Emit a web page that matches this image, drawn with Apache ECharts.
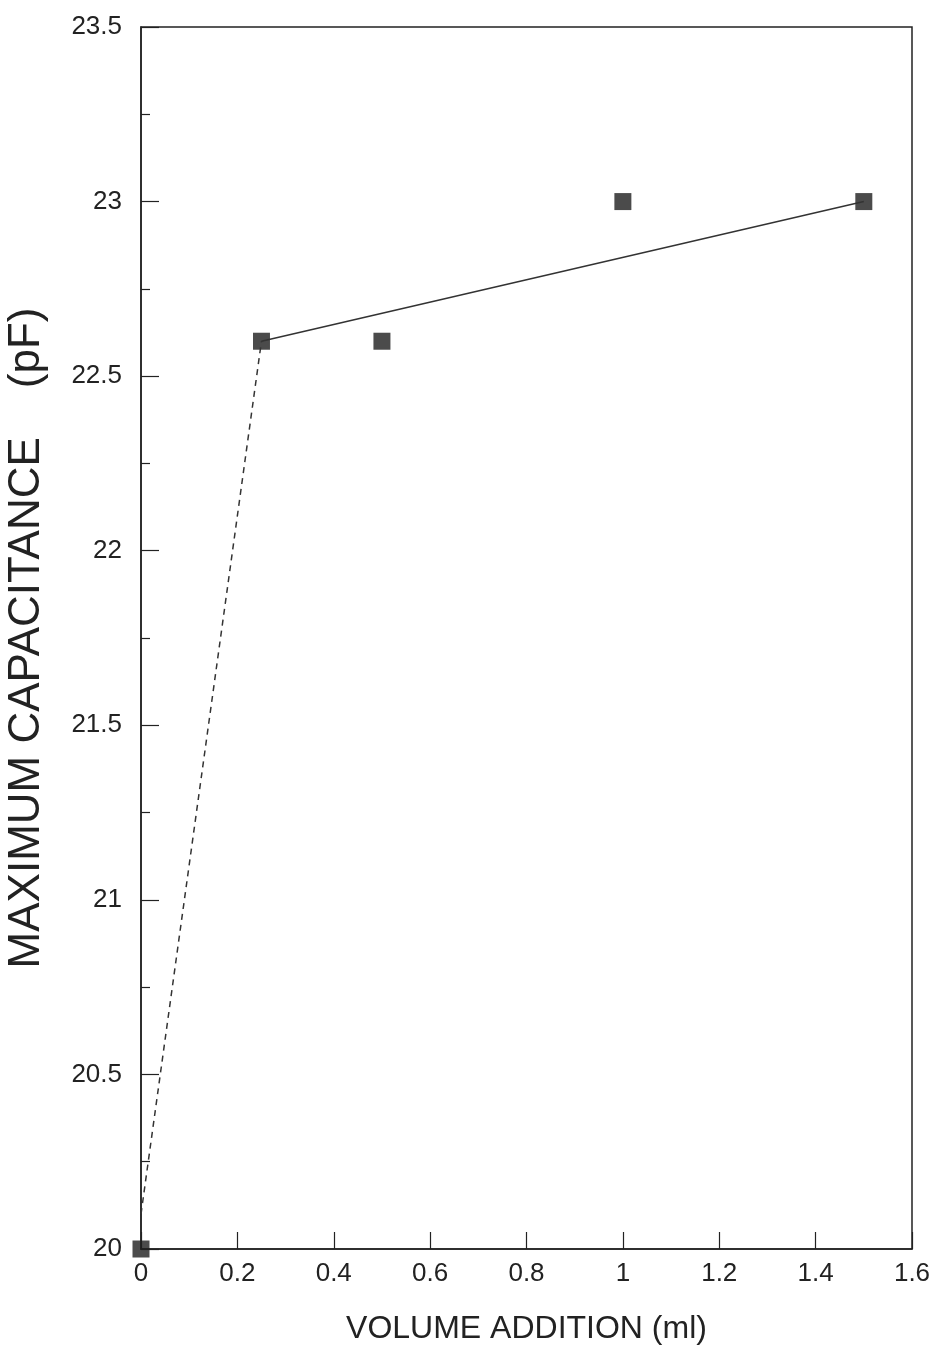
<!DOCTYPE html>
<html>
<head>
<meta charset="utf-8">
<script src="https://cdn.jsdelivr.net/npm/echarts@6/dist/echarts.min.js"></script>
<style>
html,body{margin:0;padding:0;background:#fff;}
#chart{width:939px;height:1346px;}
</style>
</head>
<body>
<div id="chart"></div>
<script>
const volume = [0, 0.25, 0.5, 1.0, 1.5];
const capacitance = [20, 22.6, 22.6, 23, 23];
const solidFitX = [0.25, 1.5];
const solidFitY = [22.6, 23];
const dashFitX = [0, 0.25];
const dashFitY = [20.1, 22.6];
const xAxisTitle = 'VOLUME ADDITION (ml)';
const yAxisTitle = 'MAXIMUM CAPACITANCE    (pF)';

const ink = '#222';
const chart = echarts.init(document.getElementById('chart'));
chart.setOption({
  backgroundColor: '#fff',
  animation: false,
  grid: {left: 141, top: 27, right: 27, bottom: 97, containLabel: false, outerBoundsMode: 'none',
         show: true, borderColor: ink, borderWidth: 1.5, backgroundColor: 'transparent'},
  xAxis: {
    type: 'value', min: 0, max: 1.6, interval: 0.2,
    axisLine: {lineStyle: {color: ink, width: 1.5}},
    axisTick: {inside: true, length: 17, lineStyle: {color: ink, width: 1.2}},
    axisLabel: {fontFamily: 'Liberation Sans, Arial', fontSize: 26, color: ink, margin: 12},
    splitLine: {show: false},
    name: xAxisTitle, nameLocation: 'middle', nameGap: 64,
    nameTextStyle: {fontFamily: 'Liberation Sans, Arial', fontSize: 32, color: ink}
  },
  yAxis: {
    type: 'value', min: 20, max: 23.5, interval: 0.5,
    axisLine: {lineStyle: {color: ink, width: 1.5}},
    axisTick: {inside: true, length: 18, lineStyle: {color: ink, width: 1.2}},
    minorTick: {show: true, splitNumber: 2, length: 9, lineStyle: {color: ink, width: 1.2}},
    axisLabel: {fontFamily: 'Liberation Sans, Arial', fontSize: 26, color: ink, margin: 19},
    splitLine: {show: false},
    minorSplitLine: {show: false},
    name: yAxisTitle, nameLocation: 'middle', nameGap: 92, nameRotate: 90,
    nameTextStyle: {fontFamily: 'Liberation Sans, Arial', fontSize: 44, color: ink}
  },
  series: [
    {
      type: 'line', data: solidFitX.map((x, i) => [x, solidFitY[i]]),
      symbol: 'none', lineStyle: {color: '#333', width: 1.5}
    },
    {
      type: 'line', data: dashFitX.map((x, i) => [x, dashFitY[i]]),
      symbol: 'none', lineStyle: {color: '#333', width: 1.5, type: [6, 5]}
    },
    {
      type: 'scatter', data: volume.map((x, i) => [x, capacitance[i]]),
      symbol: 'rect', symbolSize: 17, clip: false,
      itemStyle: {color: '#1e1e1e'}
    }
  ]
});
</script>
</body>
</html>
